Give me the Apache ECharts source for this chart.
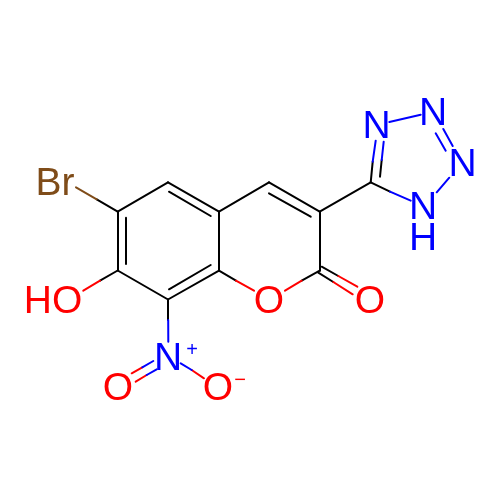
<!DOCTYPE html>
<html><head><meta charset="utf-8">
<style>html,body{margin:0;padding:0;background:#fff}#c{width:500px;height:500px}</style>
<script src="https://cdn.jsdelivr.net/npm/echarts@6/dist/echarts.min.js"></script>
</head><body><div id="c"></div>
<script>
const BLACK='#000000',RED='#FF0000',BLUE='#0000FF',BROWN='#7F4C19';
// skeleton atoms (carbon) positions
const C6=[117.7,211.7],C5=[168,182.3],C4a=[219,211.7],C8a=[219,270.7],C8=[168,299.5],C7=[117.7,270.5],
      C4=[269,182.3],C3=[319.7,211.7],C2=[319.7,270.7],C5t=[370.7,182.3];
const blackBonds=[
 [C6,C5],[C5,C4a],[C4a,C8a],[C8a,C8],[C8,C7],[C7,C6],[C4a,C4],[C4,C3],[C3,C2],[C3,C5t],
 [[126,217.7],[126,264]],[[169,191.7],[210.7,216]],[[169,289.3],[210.7,265]],[[269,193.3],[310.7,216.7]],
 [C6,[96.7,199.3]],[C7,[100,280.7]],[C8,[168.2,320]],[C2,[301.7,280.7]],[C8a,[236,280.7]],
 [[321.7,266.7],[338.3,276]],[[318.3,272.7],[333.3,282]],
 [C5t,[372.7,161.7]],[[380,176.7],[381.7,160]],[C5t,[390,191.7]]
];
const brownBonds=[[[96.7,199.3],[76,187.3]]];
const redBonds=[
 [[100,280.7],[83.3,290.7]],[[301.7,280.7],[285,290.7]],[[236,280.7],[254,290.7]],
 [[338.3,276],[357.3,286.7]],[[333.3,282],[352.7,294.3]],
 [[142.3,367.3],[131.7,373.3]],[[146.7,375],[135.7,381.7]],[[191.7,370],[204,378.3]]
];
const blueBonds=[
 [[168.2,320],[168.3,341.7]],[[153.3,361],[142.3,367.3]],[[156.7,369.3],[146.7,375]],[[180.7,363.3],[191.7,370]],
 [[372.7,161.7],[375.7,140.7]],[[381.7,160],[383.7,141.7]],[[390,191.7],[410.7,200.7]],
 [[436.7,192.3],[449.3,177.7]],[[443.3,129],[452.7,146]],[[435.7,133.3],[445.7,150.7]],[[389.3,122],[420.7,114.7]]
];
const atomText=['Br','HO','N','O','O','O','O','N','N','N','N','H'];
const atomX=[55,53,168,118,218,269,370,376.7,433,462.7,423,423];
const atomY=[184,302,359,389,389,302,302,127,114.7,165.3,208.7,239.7];
const atomColor=[BROWN,RED,BLUE,RED,RED,RED,RED,BLUE,BLUE,BLUE,BLUE,BLUE];
const chargeText=['+','\u2212'];
const chargeX=[192,240];
const chargeY=[350,380];
const chargeColor=[BLUE,RED];

function bondSeries(bonds,color){
  return {type:'lines',coordinateSystem:'cartesian2d',polyline:false,silent:true,animation:false,
    lineStyle:{color:color,width:2,opacity:1,cap:'round'},
    data:bonds.map(b=>({coords:b}))};
}
function textSeries(txt,xs,ys,cols,size){
  return {type:'scatter',symbolSize:0,silent:true,animation:false,itemStyle:{opacity:1},
    data:txt.map((t,i)=>({value:[xs[i],ys[i]],
      label:{show:true,position:'inside',formatter:t,color:cols[i],fontSize:size,opacity:1,
        fontFamily:'Liberation Sans',align:'center',verticalAlign:'middle'}}))};
}
const chart=echarts.init(document.getElementById('c'),null,{renderer:'canvas'});
chart.setOption({
  backgroundColor:'#FFFFFF',animation:false,
  grid:{left:0,right:0,top:0,bottom:0},
  xAxis:{type:'value',min:0,max:500,show:false},
  yAxis:{type:'value',min:0,max:500,inverse:true,show:false},
  series:[bondSeries(blackBonds,BLACK),bondSeries(brownBonds,BROWN),bondSeries(redBonds,RED),bondSeries(blueBonds,BLUE),
    textSeries(atomText,atomX,atomY,atomColor,39),
    textSeries(chargeText,chargeX,chargeY,chargeColor,20)]
});
</script></body></html>
